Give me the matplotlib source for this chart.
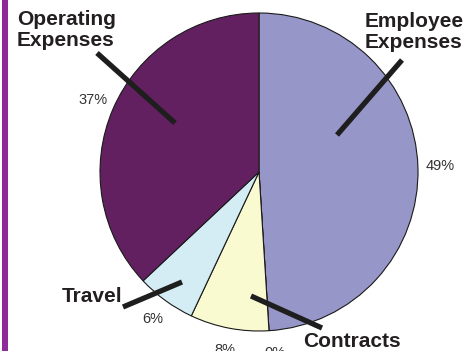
import matplotlib
matplotlib.use("Agg")
import matplotlib.pyplot as plt
from matplotlib.patches import Rectangle

plt.rcParams["font.family"] = ["Liberation Sans", "DejaVu Sans"]

# budget shares, clockwise from 12 o'clock
categories = ["Employee\nExpenses", "Other", "Contracts", "Travel", "Operating\nExpenses"]
shares = [49, 0, 8, 6, 37]
colors = ["#9696c8", "#d8d8ee", "#fafad0", "#d4ecf4", "#632060"]

W, H = 463, 351
cx, cy, R = 259, 172, 159


def to_data(px, py):
    return (px - cx) / R, (cy - py) / R


fig = plt.figure(figsize=(W / 100, H / 100), dpi=100)
fig.patch.set_facecolor("white")
fig.patches.append(Rectangle((2 / W, 0), 6 / W, 1, transform=fig.transFigure,
                             facecolor="#8e2b99", edgecolor="none"))

ax = fig.add_axes([(cx - R) / W, (H - cy - R) / H, 2 * R / W, 2 * R / H])
wedges, texts, autotexts = ax.pie(
    shares, colors=colors, startangle=90, counterclock=False,
    autopct="%.0f%%", pctdistance=1.14,
    wedgeprops=dict(edgecolor="#1a1a1a", linewidth=0.8),
    textprops=dict(fontsize=10.5, color="#333333"),
)
ax.set_xlim(-1, 1)
ax.set_ylim(-1, 1)
ax.set_aspect("equal")
ax.axis("off")
for t in autotexts:
    t.set_clip_on(False)
autotexts[1].set_x(autotexts[1].get_position()[0] + 0.03)

# callout labels and their leader lines (pixel positions)
callouts = {
    "Operating\nExpenses": ((17, 10), "left", "top", ((97, 53), (175, 123))),
    "Employee\nExpenses": ((365, 12), "left", "top", ((402, 60), (337, 135))),
    "Travel": ((62, 302), "left", "baseline", ((123, 307), (182, 282))),
    "Contracts": ((303, 347), "left", "baseline", ((251, 296), (322, 328))),
}
for name, ((tx, ty), ha, va, (p0, p1)) in callouts.items():
    x, y = to_data(tx, ty)
    ax.text(x, y, name, ha=ha, va=va, fontsize=15, fontweight="bold",
            color="#231f20", linespacing=1.1, clip_on=False)
    (x0, y0), (x1, y1) = to_data(*p0), to_data(*p1)
    ax.plot([x0, x1], [y0, y1], color="#1e1e1e", lw=3.8,
            solid_capstyle="butt", clip_on=False, zorder=5)

fig.savefig("out.png", dpi=100)
